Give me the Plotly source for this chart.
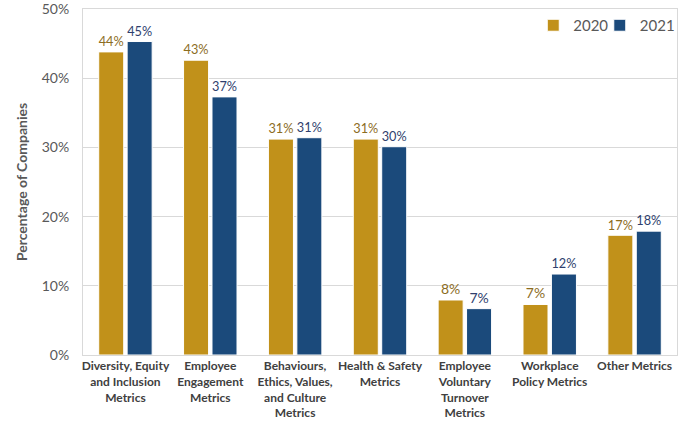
import plotly.graph_objects as go

categories = [
    "Diversity, Equity<br>and Inclusion<br>Metrics",
    "Employee<br>Engagement<br>Metrics",
    "Behaviours,<br>Ethics, Values,<br>and Culture<br>Metrics",
    "Health & Safety<br>Metrics",
    "Employee<br>Voluntary<br>Turnover<br>Metrics",
    "Workplace<br>Policy Metrics",
    "Other Metrics",
]
values_2020 = [43.8, 42.6, 31.2, 31.2, 7.95, 7.3, 17.3]
values_2021 = [45.3, 37.3, 31.4, 30.1, 6.7, 11.7, 17.9]
y_ticks = [0, 10, 20, 30, 40, 50]
y_tick_labels = ["0%", "10%", "20%", "30%", "40%", "50%"]

FONT = "Lato, Calibri, Arial, sans-serif"
NARROW = "Liberation Sans Narrow, Lato, Arial, sans-serif"
GOLD = "#C1911A"
NAVY = "#1B4A7B"

fig = go.Figure()
fig.add_trace(go.Bar(
    x=categories, y=values_2020, name="2020", legend="legend",
    marker=dict(color=GOLD, line=dict(color="white", width=1)),
    texttemplate="%{y:.0f}%", textposition="outside",
    textfont=dict(color="#8C6D1F", size=14, family=FONT),
    cliponaxis=False,
))
fig.add_trace(go.Bar(
    x=categories, y=values_2021, name="2021", legend="legend2",
    marker=dict(color=NAVY, line=dict(color="white", width=1)),
    texttemplate="%{y:.0f}%", textposition="outside",
    textfont=dict(color="#2F3F6E", size=14, family=FONT),
    cliponaxis=False,
))

legend_style = dict(orientation="h", xanchor="left", y=1.0, yanchor="top",
                    font=dict(size=15, color="#595959", family=FONT),
                    bgcolor="rgba(0,0,0,0)", itemwidth=30)

fig.update_layout(
    width=696, height=423,
    margin=dict(l=83, r=19, t=9, b=68),
    paper_bgcolor="white", plot_bgcolor="white",
    barmode="group", bargap=0.33, bargroupgap=0.12,
    font=dict(family=FONT, color="#595959"),
    legend=dict(x=0.758, **legend_style),
    legend2=dict(x=0.870, **legend_style),
    showlegend=True,
)
fig.update_xaxes(
    tickfont=dict(size=12, color="#404040", family=NARROW, weight="bold"),
    showline=True, linecolor="#D9D9D9", mirror=True,
    ticks="", tickangle=0, automargin=False,
)
fig.update_yaxes(
    range=[0, 50], tickvals=y_ticks, ticktext=y_tick_labels,
    tickfont=dict(size=14, color="#595959", family=FONT),
    showgrid=True, gridcolor="#D9D9D9", gridwidth=1,
    showline=True, linecolor="#D9D9D9", mirror=True,
    zeroline=False, ticks="", ticklabelstandoff=10, automargin=False,
    ticklabeloverflow="allow",
    title=dict(text="<b>Percentage of Companies</b>", font=dict(size=14, color="#595959", family=FONT), standoff=10),
)

fig.write_html("out.html", config={"displayModeBar": False},
               post_script="document.body.style.margin='0';")
